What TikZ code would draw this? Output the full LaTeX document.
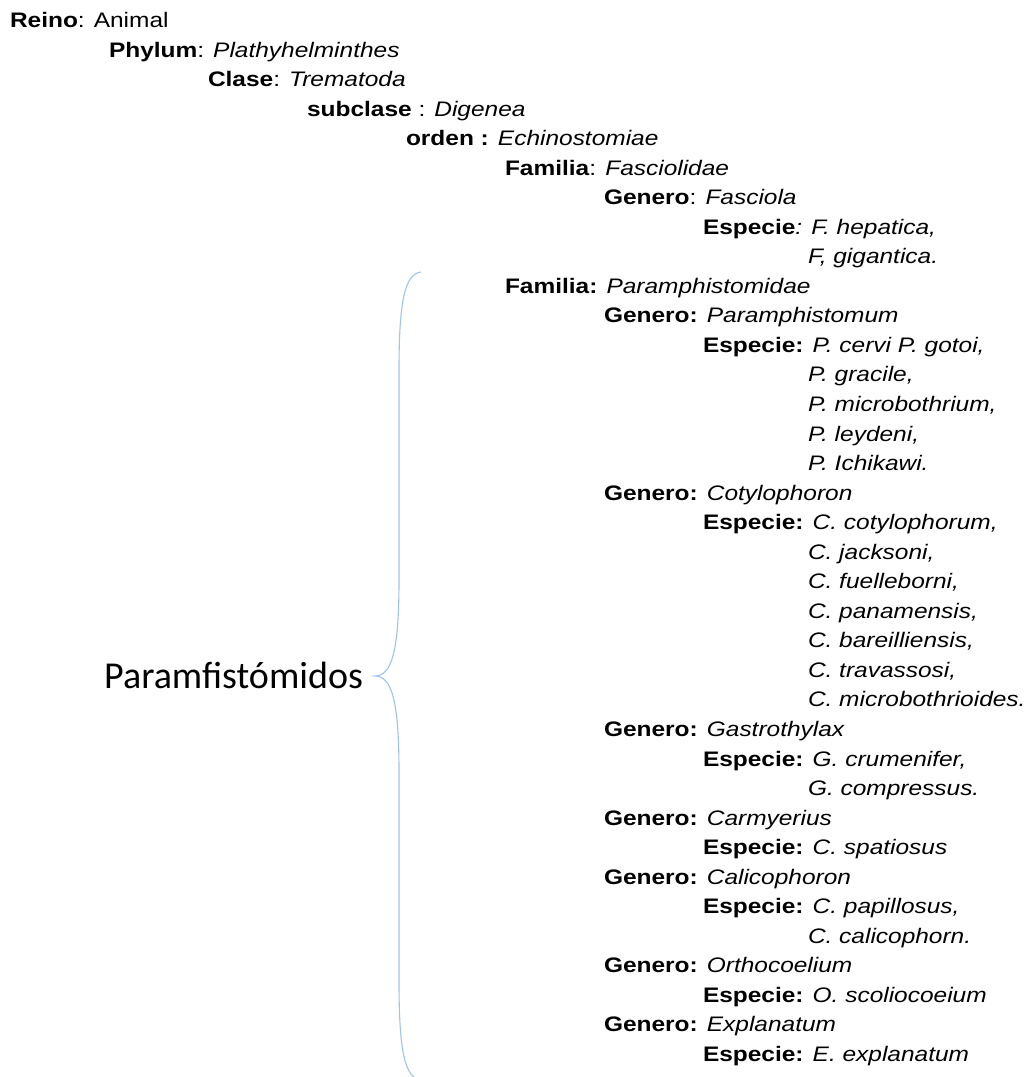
\documentclass[tikz,border=0pt]{standalone}
\usepackage{fontspec}
\setmainfont{Liberation Sans}
\newfontfamily\calfont{Carlito}
\definecolor{bracecol}{RGB}{160,196,232}
\newcommand{\lineitem}[1]{\scalebox{1.165}[1]{\fontsize{21}{21}\selectfont #1}}
\begin{document}
\begin{tikzpicture}[x=1pt,y=-1pt,
  txt/.style={anchor=base west,inner sep=0pt,outer sep=0pt},
  bigtxt/.style={anchor=base west,inner sep=0pt,font=\calfont\fontsize{38}{38}\selectfont},
  bracestyle/.style={draw=bracecol,line width=1.1pt}]
\useasboundingbox (0,0) rectangle (1027,1077);
\def\L#1{{27.5+29.54*(#1-1)}}
\node[txt] (n1) at (10,\L{1}) {\lineitem{\textbf{Reino}: Animal}};
\node[txt] (n2) at (109,\L{2}) {\lineitem{\textbf{Phylum}: \textit{Plathyhelminthes}}};
\node[txt] (n3) at (208,\L{3}) {\lineitem{\textbf{Clase}: \textit{Trematoda}}};
\node[txt] (n4) at (307,\L{4}) {\lineitem{\textbf{subclase} : \textit{Digenea}}};
\node[txt] (n5) at (406,\L{5}) {\lineitem{\textbf{orden :} \textit{Echinostomiae}}};
\node[txt] (n6) at (505,\L{6}) {\lineitem{\textbf{Familia}: \textit{Fasciolidae}}};
\node[txt] (n7) at (604,\L{7}) {\lineitem{\textbf{Genero}: \textit{Fasciola}}};
\node[txt] (n8) at (703,\L{8}) {\lineitem{\textbf{Especie}\textit{: F. hepatica,}}};
\node[txt] (n9) at (808,\L{9}) {\lineitem{\textit{F, gigantica.}}};
\node[txt] (n10) at (505,\L{10}) {\lineitem{\textbf{Familia:} \textit{Paramphistomidae}}};
\node[txt] (n11) at (604,\L{11}) {\lineitem{\textbf{Genero:} \textit{Paramphistomum}}};
\node[txt] (n12) at (703,\L{12}) {\lineitem{\textbf{Especie:} \textit{P. cervi P. gotoi,}}};
\node[txt] (n13) at (808,\L{13}) {\lineitem{\textit{P. gracile,}}};
\node[txt] (n14) at (808,\L{14}) {\lineitem{\textit{P. microbothrium,}}};
\node[txt] (n15) at (808,\L{15}) {\lineitem{\textit{P. leydeni,}}};
\node[txt] (n16) at (808,\L{16}) {\lineitem{\textit{P. Ichikawi.}}};
\node[txt] (n17) at (604,\L{17}) {\lineitem{\textbf{Genero:} \textit{Cotylophoron}}};
\node[txt] (n18) at (703,\L{18}) {\lineitem{\textbf{Especie:} \textit{C. cotylophorum,}}};
\node[txt] (n19) at (808,\L{19}) {\lineitem{\textit{C. jacksoni,}}};
\node[txt] (n20) at (808,\L{20}) {\lineitem{\textit{C. fuelleborni,}}};
\node[txt] (n21) at (808,\L{21}) {\lineitem{\textit{C. panamensis,}}};
\node[txt] (n22) at (808,\L{22}) {\lineitem{\textit{C. bareilliensis,}}};
\node[txt] (n23) at (808,\L{23}) {\lineitem{\textit{C. travassosi,}}};
\node[txt] (n24) at (808,\L{24}) {\lineitem{\textit{C. microbothrioides.}}};
\node[txt] (n25) at (604,\L{25}) {\lineitem{\textbf{Genero:} \textit{Gastrothylax}}};
\node[txt] (n26) at (703,\L{26}) {\lineitem{\textbf{Especie:} \textit{G. crumenifer,}}};
\node[txt] (n27) at (808,\L{27}) {\lineitem{\textit{G. compressus.}}};
\node[txt] (n28) at (604,\L{28}) {\lineitem{\textbf{Genero:} \textit{Carmyerius}}};
\node[txt] (n29) at (703,\L{29}) {\lineitem{\textbf{Especie:} \textit{C. spatiosus}}};
\node[txt] (n30) at (604,\L{30}) {\lineitem{\textbf{Genero:} \textit{Calicophoron}}};
\node[txt] (n31) at (703,\L{31}) {\lineitem{\textbf{Especie:} \textit{C. papillosus,}}};
\node[txt] (n32) at (808,\L{32}) {\lineitem{\textit{C. calicophorn.}}};
\node[txt] (n33) at (604,\L{33}) {\lineitem{\textbf{Genero:} \textit{Orthocoelium}}};
\node[txt] (n34) at (703,\L{34}) {\lineitem{\textbf{Especie:} \textit{O. scoliocoeium}}};
\node[txt] (n35) at (604,\L{35}) {\lineitem{\textbf{Genero:} \textit{Explanatum}}};
\node[txt] (n36) at (703,\L{36}) {\lineitem{\textbf{Especie:} \textit{E. explanatum}}};
\node[bigtxt] (lab) at (104,688) {Paramfistómidos};
\coordinate (btop) at (421,272);
\coordinate (btip) at (375,676);
\coordinate (bbot) at (421,1080);
\draw[bracestyle] (btop) .. controls (405,274) and (399,300) .. (399,370)
  -- (399,580) .. controls (399,650) and (392,676) .. (btip)
  .. controls (392,676) and (399,702) .. (399,772)
  -- (399,982) .. controls (399,1052) and (405,1078) .. (bbot);
\end{tikzpicture}
\end{document}
